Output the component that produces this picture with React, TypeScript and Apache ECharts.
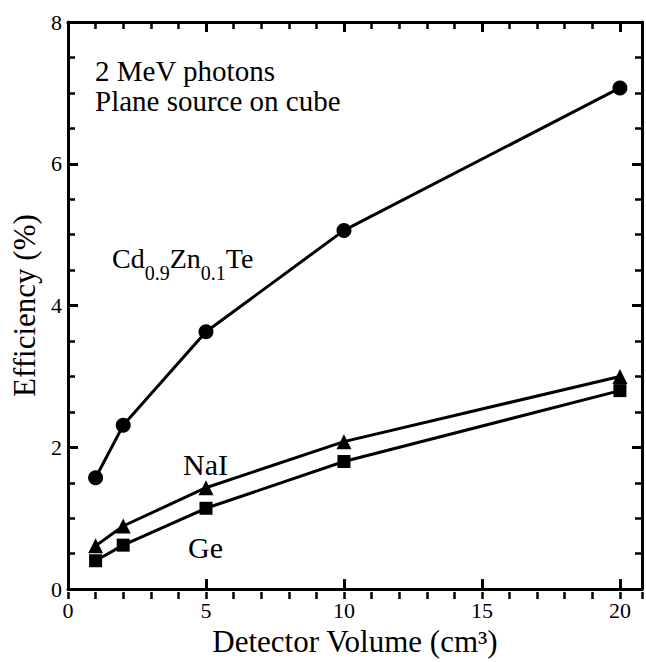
import React, { useEffect, useRef } from 'react';
import * as echarts from 'echarts';

const volumes = [1, 2, 5, 10, 20];
const cztEff = [1.57, 2.31, 3.63, 5.06, 7.07];
const naiEff = [0.61, 0.89, 1.43, 2.08, 3.0];
const geEff = [0.4, 0.62, 1.14, 1.8, 2.8];
const xTickLabels = [0, 5, 10, 15, 20];
const yTickLabels = [0, 2, 4, 6, 8];

const FONT = 'Liberation Serif';

const measure = (s: string, size: number) => {
  const ctx = document.createElement('canvas').getContext('2d');
  if (!ctx) return s.length * size * 0.5;
  ctx.font = `${size}px ${FONT}`;
  return ctx.measureText(s).width;
};

const pairs = (ys: number[]) => volumes.map((v, i) => [v, ys[i]]);

export default function App() {
  const ref = useRef<HTMLDivElement>(null);
  useEffect(() => {
    if (!ref.current) return;
    const chart = echarts.init(ref.current, undefined, { renderer: 'svg' });

    const axisLine = { show: true, onZero: false, lineStyle: { color: '#000', width: 3 } };
    const majorTick = { show: true, inside: true, length: 10, lineStyle: { color: '#000', width: 3 } };
    const minorTickAxis = { show: true, inside: true, length: 7, lineStyle: { color: '#000', width: 2.5 } };
    const minorTickY = { show: true, splitNumber: 4, length: 7, lineStyle: { color: '#000', width: 2.5 } };
    const labelStyle = { fontSize: 22, fontFamily: FONT, color: '#000' };

    const cztParts: [string, number, boolean][] = [
      ['Cd', 28, false], ['0.9', 20, true], ['Zn', 28, false], ['0.1', 20, true], ['Te', 28, false],
    ];
    let cx = 112;
    const cztTexts = cztParts.map(([t, fs, sub]) => {
      const el = {
        type: 'text',
        x: cx,
        y: sub ? 280 - 0.34 * fs : 268 - 0.34 * fs,
        style: { text: t, fontSize: fs, fontFamily: FONT, fill: '#000', textAlign: 'left', verticalAlign: 'middle' },
      };
      cx += measure(t, fs);
      return el;
    });

    const txt = (t: string, x: number, baseline: number, fs: number) => ({
      type: 'text',
      x,
      y: baseline - 0.34 * fs,
      style: { text: t, fontSize: fs, fontFamily: FONT, fill: '#000', textAlign: 'left', verticalAlign: 'middle' },
    });

    const symbolLine = (name: string, data: number[], symbol: string, size: number) => ({
      name,
      type: 'line',
      xAxisIndex: 0,
      yAxisIndex: 0,
      data: pairs(data),
      symbol,
      symbolSize: size,
      showAllSymbol: true,
      lineStyle: { color: '#000', width: 3 },
      itemStyle: { color: '#000' },
      z: 5,
    });

    chart.setOption({
      animation: false,
      backgroundColor: '#fff',
      grid: [
        { left: 68, right: 4, top: 22, bottom: 63 },
        { left: 68, right: 4, top: 22, bottom: 63 },
      ],
      xAxis: [
        {
          gridIndex: 0, type: 'value', position: 'bottom', min: 0, max: 20.8, interval: 5,
          axisLine, axisTick: majorTick, splitLine: { show: false },
          axisLabel: { ...labelStyle, margin: 10, formatter: (v: number) => (xTickLabels.includes(v) ? String(v) : '') },
          name: 'Detector Volume (cm³)', nameLocation: 'middle', nameGap: 36,
          nameTextStyle: { fontSize: 31, fontFamily: FONT, color: '#000' },
        },
        {
          gridIndex: 0, type: 'value', position: 'top', min: 0, max: 20.8, interval: 5,
          axisLine, axisTick: majorTick, splitLine: { show: false }, axisLabel: { show: false },
        },
        {
          gridIndex: 1, type: 'value', position: 'bottom', min: 0, max: 20.8, interval: 1,
          axisLine: { show: false, onZero: false }, axisTick: minorTickAxis, splitLine: { show: false }, axisLabel: { show: false },
        },
        {
          gridIndex: 1, type: 'value', position: 'top', min: 0, max: 20.8, interval: 1,
          axisLine: { show: false, onZero: false }, axisTick: minorTickAxis, splitLine: { show: false }, axisLabel: { show: false },
        },
      ],
      yAxis: [
        {
          gridIndex: 0, type: 'value', position: 'left', min: 0, max: 8, interval: 2,
          axisLine, axisTick: majorTick, splitLine: { show: false },
          minorTick: minorTickY, minorSplitLine: { show: false },
          axisLabel: { ...labelStyle, margin: 6, formatter: (v: number) => (yTickLabels.includes(v) ? String(v) : '') },
          name: 'Efficiency (%)', nameLocation: 'middle', nameGap: 24, nameRotate: 90,
          nameTextStyle: { fontSize: 31, fontFamily: FONT, color: '#000' },
        },
        {
          gridIndex: 0, type: 'value', position: 'right', min: 0, max: 8, interval: 2,
          axisLine, axisTick: majorTick, splitLine: { show: false },
          minorTick: minorTickY, minorSplitLine: { show: false }, axisLabel: { show: false },
        },
        { gridIndex: 1, type: 'value', min: 0, max: 8, show: false },
      ],
      series: [
        symbolLine('Cd0.9Zn0.1Te', cztEff, 'circle', 15),
        symbolLine('NaI', naiEff, 'triangle', 15),
        symbolLine('Ge', geEff, 'rect', 13),
      ],
      graphic: [
        {
          type: 'text',
          x: 95,
          y: 56,
          style: {
            text: '2 MeV photons\nPlane source on cube',
            fontSize: 29, lineHeight: 30, fontFamily: FONT, fill: '#000',
            textAlign: 'left', verticalAlign: 'top',
          },
        },
        ...cztTexts,
        txt('NaI', 183, 475, 30),
        txt('Ge', 188, 558, 30),
      ],
    });
    return () => chart.dispose();
  }, []);
  return <div ref={ref} style={{ position: 'absolute', left: 0, top: 0, width: 646, height: 662 }} />;
}
